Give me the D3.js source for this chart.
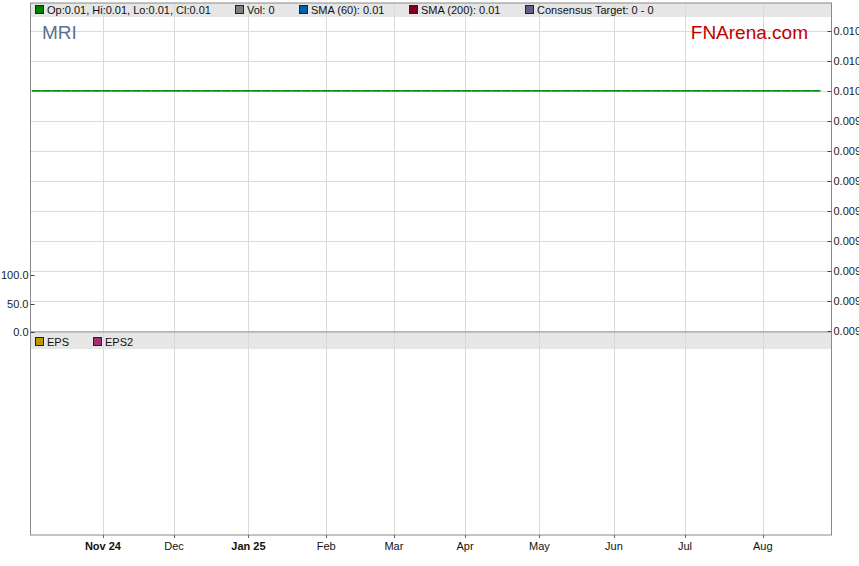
<!DOCTYPE html>
<html><head><meta charset="utf-8">
<script src="https://cdn.jsdelivr.net/npm/d3@7"></script>
<style>
html,body{margin:0;padding:0;background:#fff;}
svg{display:block;font-family:"Liberation Sans",Arial,sans-serif;}
</style></head>
<body><svg id="c" width="859" height="566"></svg>
<script>
// ---- data ----
const ticker = "MRI";
const priceDates = ["2024-10-03", "2025-08-26"];
const priceClose = [0.01, 0.01];
const sma60 = [0.01, 0.01];
const priceTicks = [0.0102, 0.0101, 0.0100, 0.0099, 0.0098, 0.0097, 0.0096, 0.0095, 0.0094, 0.0093, 0.0092];
const volumeTicks = [0, 50, 100];
const monthTickDates = ["2024-11-01","2024-12-02","2025-01-01","2025-02-03","2025-03-03","2025-04-01","2025-05-01","2025-06-02","2025-07-01","2025-08-01"];
const monthTickLabels = ["Nov 24","Dec","Jan 25","Feb","Mar","Apr","May","Jun","Jul","Aug"];
const boldTicks = ["Nov 24","Jan 25"];
const topLegend = [
  {label:"Op:0.01, Hi:0.01, Lo:0.01, Cl:0.01", color:"#008000"},
  {label:"Vol: 0", color:"#808080"},
  {label:"SMA (60): 0.01", color:"#0060a8"},
  {label:"SMA (200): 0.01", color:"#800020"},
  {label:"Consensus Target: 0 - 0", color:"#606088"}
];
const lowerLegend = [
  {label:"EPS", color:"#b89a00"},
  {label:"EPS2", color:"#a03070"}
];

// ---- layout ----
const L = 30.5, R = 831.5, T = 3, MB = 332, B = 535;
const svg = d3.select("#c");
const parse = d3.utcParse("%Y-%m-%d");
const fmt = d3.utcFormat("%Y-%m-%d");

// weekday (trading-day) index axis
const allDays = d3.utcDay.range(parse("2024-09-30"), parse("2025-09-06")).filter(d => d.getUTCDay() !== 0 && d.getUTCDay() !== 6);
const idx = new Map(allDays.map((d,i)=>[fmt(d), i]));
const x = d3.scaleLinear()
  .domain([idx.get("2024-10-03") - 0.4, idx.get("2025-08-29") + 0.3])
  .range([L, R]);
const y = d3.scaleLinear().domain([0.0092, 0.0102]).range([330.7, 30.7]);
const yVol = d3.scaleLinear().domain([0, 100]).range([331.7, 275.3]);

// legend bands
svg.append("rect").attr("x", L).attr("y", T).attr("width", R-L).attr("height", 14).attr("fill", "#e6e6e6");
svg.append("rect").attr("x", L).attr("y", MB+1).attr("width", R-L).attr("height", 16).attr("fill", "#e6e6e6");

// vertical grid
const gridColor = "#dadada";
svg.append("g").selectAll("line").data(monthTickDates).join("line")
  .attr("x1", d => Math.round(x(idx.get(d)))+0.5).attr("x2", d => Math.round(x(idx.get(d)))+0.5)
  .attr("y1", T).attr("y2", B).attr("stroke", gridColor).attr("stroke-width", 1);

// horizontal grid (price)
svg.append("g").selectAll("line").data(priceTicks).join("line")
  .attr("x1", L).attr("x2", R)
  .attr("y1", d => Math.round(y(d))+0.5).attr("y2", d => Math.round(y(d))+0.5)
  .attr("stroke", gridColor).attr("stroke-width", 1);

// price lines
const pts = priceDates.map((d,i)=>({x: idx.get(d), c: priceClose[i], s: sma60[i]}));
svg.append("path").datum(pts)
  .attr("d", d3.line().x(d=>x(d.x)).y(d=>y(d.s)))
  .attr("fill","none").attr("stroke","#3a8ad8").attr("stroke-width",1.5);
svg.append("path").datum(pts)
  .attr("d", d3.line().x(d=>x(d.x)).y(d=>y(d.c)))
  .attr("fill","none").attr("stroke","#0a8a0a").attr("stroke-width",1.6).attr("stroke-dasharray","9,1");

// borders
const bc = "#8a8a8a";
svg.append("rect").attr("x", L).attr("y", T).attr("width", R-L).attr("height", B-T)
  .attr("fill","none").attr("stroke", bc).attr("stroke-width",1);
svg.append("line").attr("x1", L).attr("x2", R).attr("y1", MB).attr("y2", MB).attr("stroke", bc);

// right price axis
const rAxis = svg.append("g");
rAxis.selectAll("line").data(priceTicks).join("line")
  .attr("x1", R-4).attr("x2", R).attr("y1", d=>Math.round(y(d))+0.5).attr("y2", d=>Math.round(y(d))+0.5)
  .attr("stroke","#444");
rAxis.selectAll("text").data(priceTicks).join("text")
  .attr("x", R+2).attr("y", d=>y(d)+4).attr("font-size", 11).attr("fill","#222")
  .text(d => d3.format(".4f")(d));

// left volume axis
const lAxis = svg.append("g");
lAxis.selectAll("line").data(volumeTicks).join("line")
  .attr("x1", L).attr("x2", L+4).attr("y1", d=>Math.round(yVol(d))+0.5).attr("y2", d=>Math.round(yVol(d))+0.5)
  .attr("stroke","#444");
lAxis.selectAll("text").data(volumeTicks).join("text")
  .attr("x", L-2).attr("y", d=>yVol(d)+4).attr("font-size", 11).attr("fill","#222").attr("text-anchor","end")
  .text(d => d3.format(".1f")(d));

// bottom date axis
const bAxis = svg.append("g");
bAxis.selectAll("line").data(monthTickDates).join("line")
  .attr("x1", d => Math.round(x(idx.get(d)))+0.5).attr("x2", d => Math.round(x(idx.get(d)))+0.5)
  .attr("y1", B).attr("y2", B+3).attr("stroke","#666");
bAxis.selectAll("text").data(monthTickDates).join("text")
  .attr("x", d => x(idx.get(d))).attr("y", B+15).attr("text-anchor","middle")
  .attr("font-size", 11).attr("fill","#111")
  .attr("font-weight", (d,i) => boldTicks.includes(monthTickLabels[i]) ? "bold" : "normal")
  .text((d,i) => monthTickLabels[i]);

// legends
function legend(items, xs, yc) {
  const g = svg.append("g");
  items.forEach((it,i) => {
    g.append("rect").attr("x", xs[i]+0.5).attr("y", yc-4.5).attr("width", 8).attr("height", 8)
      .attr("fill", it.color).attr("stroke", "#222").attr("stroke-width", 1);
    g.append("text").attr("x", xs[i]+12).attr("y", yc+4).attr("font-size", 11).attr("fill","#111").text(it.label);
  });
}
legend(topLegend, [35, 235, 299, 409, 525], 10);
legend(lowerLegend, [35, 93], 342);

// titles
svg.append("text").attr("x", 42).attr("y", 39).attr("font-size", 19).attr("fill", "#5f6f8f").text(ticker);
svg.append("text").attr("x", 808).attr("y", 39).attr("font-size", 19).attr("fill", "#c00000").attr("text-anchor","end").text("FNArena.com");
</script></body></html>
